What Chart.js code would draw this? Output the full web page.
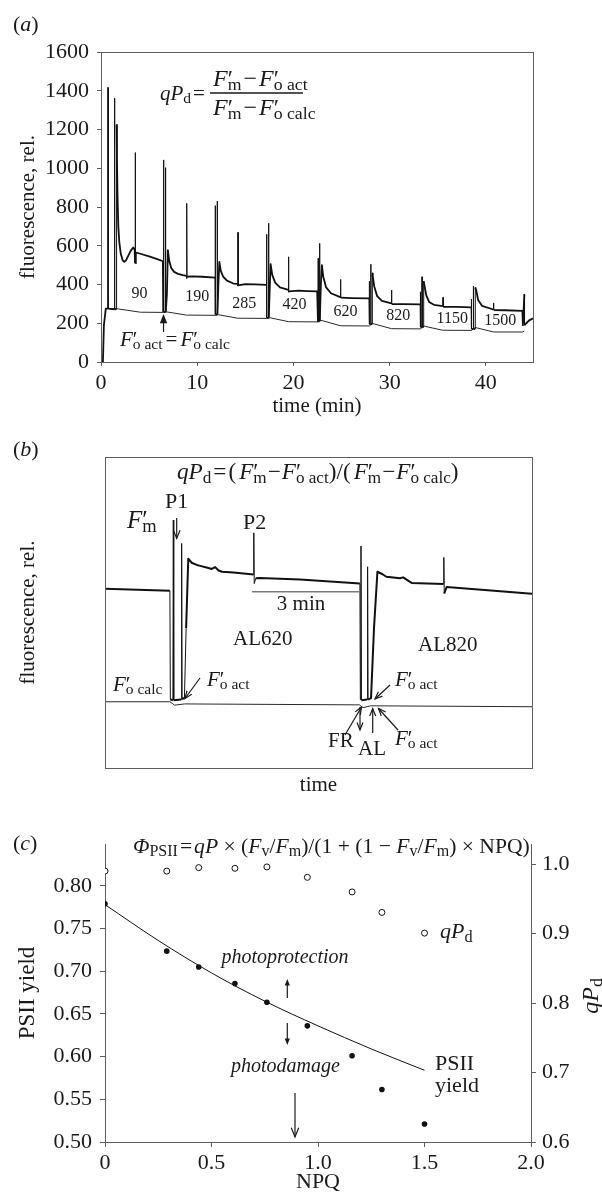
<!DOCTYPE html>
<html>
<head>
<meta charset="utf-8">
<script src="https://cdn.jsdelivr.net/npm/chart.js@4.4.1/dist/chart.umd.min.js"></script>
<style>
  html, body { margin: 0; padding: 0; background: #fff; }
  #wrap { position: relative; width: 602px; height: 1193px; overflow: hidden; }
  canvas { position: absolute; left: 0; }
</style>
</head>
<body>
<div id="wrap">
  <canvas id="chartA" width="602" height="420" style="top:0px"></canvas>
  <canvas id="chartB" width="602" height="380" style="top:420px"></canvas>
  <canvas id="chartC" width="602" height="393" style="top:800px"></canvas>
</div>
<script>
// ---- panel (a): fluorescence trace over the light steps ----
const aTime = [0.2, 0.3, 0.5, 0.71, 0.73, 0.75, 1.39, 1.41, 1.43, 1.60, 1.62, 1.66, 1.72, 1.8, 1.9, 2.05, 2.25, 2.42, 2.6, 2.85, 3.1, 3.35, 3.5, 3.54, 3.56, 3.58, 3.62, 4.0, 5.0, 6.0, 6.43,
  6.47, 6.5, 6.53, 6.68, 6.7, 6.73, 6.85, 6.95, 7.1, 7.3, 7.6, 8.0, 8.5, 8.88, 8.9, 8.92, 8.94, 9.5, 10.5, 11.86,
  11.87, 11.88, 11.9, 12.06, 12.08, 12.1, 12.2, 12.3, 12.45, 12.7, 13.1, 13.76, 14.22, 14.23, 14.24, 14.26, 15, 16, 17.2,
  17.21, 17.22, 17.24, 17.4, 17.42, 17.44, 17.55, 17.63, 17.8, 18.1, 18.6, 19.3, 19.48, 19.49, 19.5, 19.52, 20.5, 21.5, 22.47,
  22.55, 22.58, 22.6, 22.7, 22.72, 22.74, 22.85, 22.96, 23.1, 23.4, 23.9, 24.8, 24.88, 24.9, 24.92, 26, 27.86,
  27.88, 27.9, 27.92, 28.02, 28.04, 28.06, 28.18, 28.2, 28.25, 28.4, 28.7, 29.2, 30.18, 30.2, 30.22, 31.5, 33.18,
  33.19, 33.2, 33.22, 33.35, 33.37, 33.39, 33.52, 33.54, 33.6, 33.8, 34.1, 34.6, 35.53, 35.55, 35.57, 37, 38.48,
  38.49, 38.5, 38.52, 38.68, 38.7, 38.72, 38.88, 38.9, 39.0, 39.2, 39.6, 40.78, 40.8, 40.82, 42, 43.8,
  43.85, 44.0, 44.02, 44.2, 44.5, 44.9];
const aFluor = [0, 190, 275, 275, 1417, 275, 272, 1362, 272, 272, 1224, 1050, 850, 700, 620, 560, 525, 517, 525, 550, 575, 591, 580, 510, 1081, 510, 565, 560, 545, 528, 520,
  258, 1043, 258, 258, 1003, 258, 350, 577, 520, 485, 465, 455, 448, 445, 430, 819, 440, 442, 440, 435,
  245, 807, 245, 245, 831, 245, 400, 517, 470, 440, 420, 405, 403, 392, 669, 395, 402, 401, 398,
  228, 659, 228, 228, 716, 228, 400, 505, 450, 410, 385, 375, 372, 360, 543, 365, 368, 366, 365,
  210, 535, 210, 210, 612, 210, 400, 500, 440, 385, 355, 336, 334, 426, 332, 330, 328,
  195, 417, 195, 195, 504, 195, 195, 457, 440, 390, 340, 315, 302, 371, 299, 299, 297,
  180, 362, 180, 180, 440, 180, 180, 417, 400, 345, 310, 295, 288, 333, 285, 284, 282,
  170, 324, 170, 170, 391, 170, 170, 385, 370, 320, 290, 271, 305, 268, 267, 264,
  190, 350, 190, 200, 215, 225];
const aFoTime = [0.5, 1.5, 4.1, 6.5, 6.9, 8.9, 11.9, 12.2, 14.2, 17.2, 17.6, 19.5, 22.5, 22.8, 24.9, 27.9, 28.2, 30.2, 33.2, 33.6, 35.5, 38.5, 38.9, 40.8, 43.8, 44.0];
const aFo = [276, 276, 257, 256, 258, 242, 241, 244, 226, 225, 228, 208, 207, 216, 187, 186, 199, 172, 171, 185, 164, 163, 178, 155, 155, 160];
const aLightText = ['90', '190', '285', '420', '620', '820', '1150', '1500'];
const aTicksX = [0, 10, 20, 30, 40];

// ---- panel (b): two light steps, arbitrary units ----
const bTime = [0, 15.2, 15.3, 15.9, 16.0, 16.1, 17.85, 17.95, 18.05, 18.6, 19.0, 19.5, 20.3, 21.5, 22.3, 24.0, 25.0, 25.8, 26.6, 27.4, 30.1, 34.8, 34.85, 34.95, 35.3, 36.2, 45.7, 59.7,
  59.8, 59.95, 60.05, 61.4, 61.5, 61.6, 62.3, 63.0, 63.8, 65.0, 65.9, 69.1, 69.8, 71.8, 79.3, 79.35, 79.45, 80.0, 100];
const bFluor = [57.6, 57.0, 22.0, 21.8, 79.7, 21.8, 22.0, 72.2, 22.2, 22.5, 45, 67.3, 66.0, 65.3, 65.0, 64.4, 64.0, 64.6, 63.5, 63.1, 62.9, 62.2, 75.6, 59.3, 61.0, 61.1, 60.6, 59.3,
  22.0, 71.4, 21.8, 22.0, 64.7, 22.0, 22.5, 45, 63.1, 62.3, 61.5, 61.0, 61.3, 59.5, 59.2, 67.7, 56.1, 58.2, 56.0];
const bFoTime = [0, 15.2, 16.3, 18.6, 59.6, 60.4, 62.2, 100];
const bFo = [21.3, 21.3, 20.2, 20.6, 20.3, 19.4, 20.0, 19.7];

// ---- panel (c): PSII yield and qPd against NPQ ----
const npq = [0, 0.29, 0.44, 0.61, 0.76, 0.95, 1.16, 1.30, 1.50];
const psiiYield = [0.779, 0.7235, 0.705, 0.6855, 0.6636, 0.636, 0.601, 0.5615, 0.521];
const qPd = [0.990, 0.990, 0.995, 0.994, 0.996, 0.981, 0.960, 0.9305, 0.9007];
const fitNpq = [0, 0.25, 0.5, 0.75, 1.0, 1.25, 1.5];
const fitYield = [0.778, 0.736, 0.698, 0.665, 0.636, 0.609, 0.584];

const SERIF = '"Liberation Serif", "DejaVu Serif", serif';
const INK = '#1a1a1a';
const AXIS = '#5e5e5e';
Chart.defaults.font.family = SERIF;
Chart.defaults.color = INK;

const toXY = (xs, ys) => xs.map((v, i) => ({ x: v, y: ys[i] }));

// rich text: parts are [text, style] ('i' italic, 'b' subscript, 'p' stackable prime) or a number = gap
function layoutRich(ctx, parts, size) {
  const items = [];
  let cx = 0, stackX = null, stackW = 0;
  for (const p of parts) {
    if (typeof p === 'number') { cx += p; stackX = null; continue; }
    const [txt, st = ''] = p;
    const small = st.includes('b');
    const fs = small ? size * 0.74 : size;
    const font = (st.includes('i') ? 'italic ' : '') + fs.toFixed(2) + 'px ' + SERIF;
    ctx.font = font;
    const w = ctx.measureText(txt).width;
    let px = cx;
    if (small && stackX !== null) { px = stackX; cx = stackX + Math.max(stackW, w); stackX = null; }
    else if (st.includes('p')) { stackX = cx; stackW = w; cx += w; }
    else { stackX = null; cx += w; }
    items.push({ txt, font, px, dy: small ? size * 0.16 : 0 });
  }
  return { items, width: cx };
}

function rich(ctx, parts, x, y, size, align) {
  const { items, width } = layoutRich(ctx, parts, size);
  const off = align === 'center' ? -width / 2 : align === 'right' ? -width : 0;
  ctx.save();
  ctx.fillStyle = INK;
  ctx.textBaseline = 'alphabetic';
  ctx.textAlign = 'left';
  items.forEach(it => { ctx.font = it.font; ctx.fillText(it.txt, x + off + it.px, y + it.dy); });
  ctx.restore();
  return width;
}

const fitSize = (ctx, parts, size, target) => size * target / layoutRich(ctx, parts, size).width;

function arrow(ctx, x1, y1, x2, y2, head, filled) {
  const a = Math.atan2(y2 - y1, x2 - x1);
  ctx.save();
  ctx.strokeStyle = INK;
  ctx.fillStyle = INK;
  ctx.lineWidth = 1.2;
  ctx.beginPath();
  ctx.moveTo(x1, y1);
  ctx.lineTo(x2 - (filled ? Math.cos(a) * head * 0.7 : 0), y2 - (filled ? Math.sin(a) * head * 0.7 : 0));
  ctx.stroke();
  ctx.beginPath();
  ctx.moveTo(x2 - head * Math.cos(a - 0.38), y2 - head * Math.sin(a - 0.38));
  ctx.lineTo(x2, y2);
  ctx.lineTo(x2 - head * Math.cos(a + 0.38), y2 - head * Math.sin(a + 0.38));
  if (filled) { ctx.closePath(); ctx.fill(); } else { ctx.stroke(); }
  ctx.restore();
}

function frame(ctx, a) {
  ctx.save();
  ctx.strokeStyle = AXIS;
  ctx.lineWidth = 1;
  ctx.strokeRect(Math.round(a.left) + 0.5, Math.round(a.top) + 0.5, Math.round(a.right - a.left), Math.round(a.bottom - a.top));
  ctx.restore();
}

function plainText(ctx, txt, x, y, size, align, italic) {
  ctx.save();
  ctx.fillStyle = INK;
  ctx.font = (italic ? 'italic ' : '') + size + 'px ' + SERIF;
  ctx.textAlign = align || 'left';
  ctx.textBaseline = 'alphabetic';
  ctx.fillText(txt, x, y);
  ctx.restore();
}

const Fp = sub => [['F', 'i'], ['′', 'p'], [sub, 'b']];
const QPD = [['q', 'i'], ['P', 'i'], ['d', 'b']];
const label = (l) => [['(', ''], [l, 'i'], [')', '']];

const axisGrid = { display: true, drawOnChartArea: false, drawTicks: true, tickLength: 4, color: AXIS };
const axisBorder = { display: true, color: AXIS, width: 1 };

// ---------- chart (a) ----------
const aLightAt = [[4.0, 354], [10.0, 336], [14.9, 298], [20.1, 293], [25.4, 259], [30.9, 236], [36.5, 224], [41.5, 212]];
const panelA = {
  id: 'panelA',
  afterDraw(chart) {
    const { ctx, chartArea, scales: { x, y } } = chart;
    frame(ctx, chartArea);
    ctx.save();
    ctx.font = '16px ' + SERIF;
    ctx.fillStyle = INK;
    ctx.textAlign = 'center';
    ctx.textBaseline = 'middle';
    aLightText.forEach((t, i) => ctx.fillText(t, x.getPixelForValue(aLightAt[i][0]), y.getPixelForValue(aLightAt[i][1])));
    ctx.restore();
    rich(ctx, label('a'), 13, 31, 22);
    // fraction formula
    rich(ctx, [...QPD, 2, ['=', '']], 160, 100, 21);
    ctx.save();
    ctx.strokeStyle = INK;
    ctx.lineWidth = 1.4;
    ctx.beginPath(); ctx.moveTo(210, 93); ctx.lineTo(303, 93); ctx.stroke();
    ctx.restore();
    rich(ctx, [...Fp('m'), 2, ['−', ''], 2, ...Fp('o act')], 213, 86, 24);
    rich(ctx, [...Fp('m'), 2, ['−', ''], 2, ...Fp('o calc')], 213, 115, 24);
    rich(ctx, [...Fp('o act'), 3, ['=', ''], 3, ...Fp('o calc')], 120, 346, 21);
    const ax = x.getPixelForValue(6.5);
    arrow(ctx, ax, 332, ax, 314, 10, true);
  }
};

new Chart(document.getElementById('chartA'), {
  type: 'scatter',
  data: {
    datasets: [
      {
        data: toXY(aTime, aFluor), showLine: true, borderColor: '#111', borderWidth: 1.8, pointRadius: 0,
        borderJoinStyle: 'round',
        segment: { borderWidth: c => (c.p1.parsed.x - c.p0.parsed.x) < 0.035 ? 1 : 1.8 }
      },
      { data: toXY(aFoTime, aFo), showLine: true, borderColor: '#2a2a2a', borderWidth: 1, pointRadius: 0 }
    ]
  },
  options: {
    responsive: false, animation: false,
    layout: { padding: { top: 52, right: 69, left: 0, bottom: 0 } },
    plugins: { legend: { display: false }, tooltip: { enabled: false } },
    scales: {
      x: {
        type: 'linear', min: 0, max: 44.9,
        afterFit: s => { s.height = 58; },
        afterBuildTicks: s => { s.ticks = aTicksX.map(v => ({ value: v })); },
        ticks: { padding: 4, font: { size: 22 }, maxRotation: 0, callback: v => String(v) },
        grid: axisGrid, border: axisBorder,
        title: { display: true, text: 'time (min)', font: { size: 21, lineHeight: 1 }, padding: { top: 0, bottom: 3 } }
      },
      y: {
        min: 0, max: 1600,
        afterFit: s => { s.width = 101; },
        ticks: { stepSize: 200, padding: 8, font: { size: 22 }, callback: v => String(v) },
        grid: axisGrid, border: axisBorder,
        title: { display: true, text: 'fluorescence, rel.', font: { size: 21, lineHeight: 1 }, padding: { top: 17.5, bottom: 0 } }
      }
    }
  },
  plugins: [panelA]
});

// ---------- chart (b) ----------
const panelB = {
  id: 'panelB',
  afterDraw(chart) {
    const { ctx, chartArea, scales: { x, y } } = chart;
    frame(ctx, chartArea);
    rich(ctx, label('b'), 13, 36, 22);
    const fParts = [...QPD, 2, ['=', ''], 2, ['(', ''], 3, ...Fp('m'), 1, ['−', ''], 1, ...Fp('o act'), [')/(', ''], 3, ...Fp('m'), 1, ['−', ''], 1, ...Fp('o calc'), [')', '']];
    rich(ctx, fParts, 177, 59, fitSize(ctx, fParts, 21, 283));
    rich(ctx, Fp('m'), 127, 108, 25);
    plainText(ctx, 'P1', 165, 88, 22);
    plainText(ctx, 'P2', 243, 109, 22);
    arrow(ctx, 176.7, 98, 176.7, 118.5, 9, false);
    // 3 min scale bar
    ctx.save();
    ctx.strokeStyle = '#7a7a7a';
    ctx.lineWidth = 1.5;
    const sy = y.getPixelForValue(56.7);
    ctx.beginPath(); ctx.moveTo(x.getPixelForValue(34.4), sy); ctx.lineTo(x.getPixelForValue(59.6), sy); ctx.stroke();
    ctx.restore();
    plainText(ctx, '3 min', 301, 190, 21, 'center');
    plainText(ctx, 'AL620', 233, 225, 21);
    plainText(ctx, 'AL820', 418, 230.5, 21);
    rich(ctx, Fp('o calc'), 113, 270.5, 21);
    rich(ctx, Fp('o act'), 207, 266, 21);
    arrow(ctx, 200, 258, 185, 278.5, 8, false);
    rich(ctx, Fp('o act'), 395, 266, 21);
    arrow(ctx, 390, 265, 375, 279, 8, false);
    plainText(ctx, 'FR', 328, 326.5, 21);
    arrow(ctx, 345, 315, 361.5, 287, 8, false);
    arrow(ctx, 360, 287, 360, 310, 8, false);
    plainText(ctx, 'AL', 358, 335, 21);
    arrow(ctx, 372.7, 313, 372.7, 288.5, 8, false);
    rich(ctx, Fp('o act'), 395, 325, 21);
    arrow(ctx, 398, 310, 378.5, 288.5, 8, false);
  }
};

new Chart(document.getElementById('chartB'), {
  type: 'scatter',
  data: {
    datasets: [
      {
        data: toXY(bTime, bFluor), showLine: true, borderColor: '#111', borderWidth: 2, pointRadius: 0,
        borderJoinStyle: 'round',
        segment: { borderWidth: c => (c.p1.parsed.x - c.p0.parsed.x) < 0.45 ? 1 : 2 }
      },
      { data: toXY(bFoTime, bFo), showLine: true, borderColor: '#2a2a2a', borderWidth: 1, pointRadius: 0 }
    ]
  },
  options: {
    responsive: false, animation: false,
    layout: { padding: { top: 37, right: 70, left: 0, bottom: 0 } },
    plugins: { legend: { display: false }, tooltip: { enabled: false } },
    scales: {
      x: {
        type: 'linear', min: 0, max: 100,
        afterFit: s => { s.height = 32; },
        ticks: { display: false }, grid: { display: false }, border: { display: false },
        title: { display: true, text: 'time', font: { size: 21, lineHeight: 1 }, padding: { top: 0, bottom: 4.5 } }
      },
      y: {
        min: 0, max: 100,
        afterFit: s => { s.width = 105; },
        ticks: { display: false }, grid: { display: false }, border: { display: false },
        title: { display: true, text: 'fluorescence, rel.', font: { size: 21, lineHeight: 1 }, padding: { top: 17.5, bottom: 0 } }
      }
    }
  },
  plugins: [panelB]
});

// ---------- chart (c) ----------
const panelC = {
  id: 'panelC',
  afterDraw(chart) {
    const { ctx } = chart;
    rich(ctx, label('c'), 13, 50, 22);
    const fParts = [['Φ', 'i'], ['PSII', 'b'], 2, ['=', ''], 2, ['q', 'i'], ['P', 'i'], [' × (', ''], ['F', 'i'], ['v', 'b'], ['/', ''], ['F', 'i'], ['m', 'b'],
      [')/(1 + (1 − ', ''], ['F', 'i'], ['v', 'b'], ['/', ''], ['F', 'i'], ['m', 'b'], [') × NPQ)', '']];
    rich(ctx, fParts, 133, 53, fitSize(ctx, fParts, 21, 397));
    plainText(ctx, 'photoprotection', 285, 162.5, 20, 'center', true);
    plainText(ctx, 'photodamage', 285.5, 271.5, 20, 'center', true);
    arrow(ctx, 287.3, 198, 287.3, 179, 7, true);
    arrow(ctx, 287.3, 223, 287.3, 245, 7, true);
    arrow(ctx, 295, 293, 295, 337, 10, false);
    rich(ctx, QPD, 440, 138, 22);
    plainText(ctx, 'PSII', 435, 270, 22);
    plainText(ctx, 'yield', 435, 291.5, 22);
    ctx.save();
    ctx.translate(590, 196);
    ctx.rotate(-Math.PI / 2);
    rich(ctx, QPD, 0, 8, 24, 'center');
    ctx.restore();
  }
};

new Chart(document.getElementById('chartC'), {
  type: 'scatter',
  data: {
    datasets: [
      {
        data: toXY(npq, qPd), yAxisID: 'y1', pointRadius: 3, pointBorderWidth: 1,
        pointBackgroundColor: '#fff', pointBorderColor: '#111'
      },
      {
        data: toXY(npq, psiiYield), yAxisID: 'y', pointRadius: 2.8, pointBorderWidth: 0,
        pointBackgroundColor: '#111', pointBorderColor: '#111'
      },
      {
        data: toXY(fitNpq, fitYield), yAxisID: 'y', showLine: true, pointRadius: 0,
        borderColor: '#111', borderWidth: 1, cubicInterpolationMode: 'monotone'
      }
    ]
  },
  options: {
    responsive: false, animation: false,
    layout: { padding: { top: 44, right: 0, left: 0, bottom: 0 } },
    plugins: { legend: { display: false }, tooltip: { enabled: false } },
    scales: {
      x: {
        type: 'linear', min: 0, max: 2,
        afterFit: s => { s.height = 51; },
        ticks: { stepSize: 0.5, padding: 3, font: { size: 22 }, maxRotation: 0, callback: v => v === 0 ? '0' : v.toFixed(1) },
        grid: { ...axisGrid, tickLength: 5 }, border: axisBorder,
        title: { display: true, text: 'NPQ', font: { size: 22, lineHeight: 1 }, padding: { top: 0, bottom: 0 } }
      },
      y: {
        position: 'left', min: 0.5, max: 0.849,
        afterFit: s => { s.width = 105; },
        ticks: { stepSize: 0.05, includeBounds: false, padding: 8, font: { size: 22 }, callback: v => v.toFixed(2) },
        grid: { ...axisGrid, tickLength: 5 }, border: axisBorder,
        title: { display: true, text: 'PSII yield', font: { size: 23, lineHeight: 1 }, padding: { top: 16.5, bottom: 0 } }
      },
      y1: {
        position: 'right', min: 0.6, max: 1.029,
        afterFit: s => { s.width = 71; },
        ticks: { stepSize: 0.1, includeBounds: false, padding: 6, font: { size: 22 }, callback: v => v.toFixed(1) },
        grid: { ...axisGrid, tickLength: 5 }, border: axisBorder
      }
    }
  },
  plugins: [panelC]
});
</script>
</body>
</html>
